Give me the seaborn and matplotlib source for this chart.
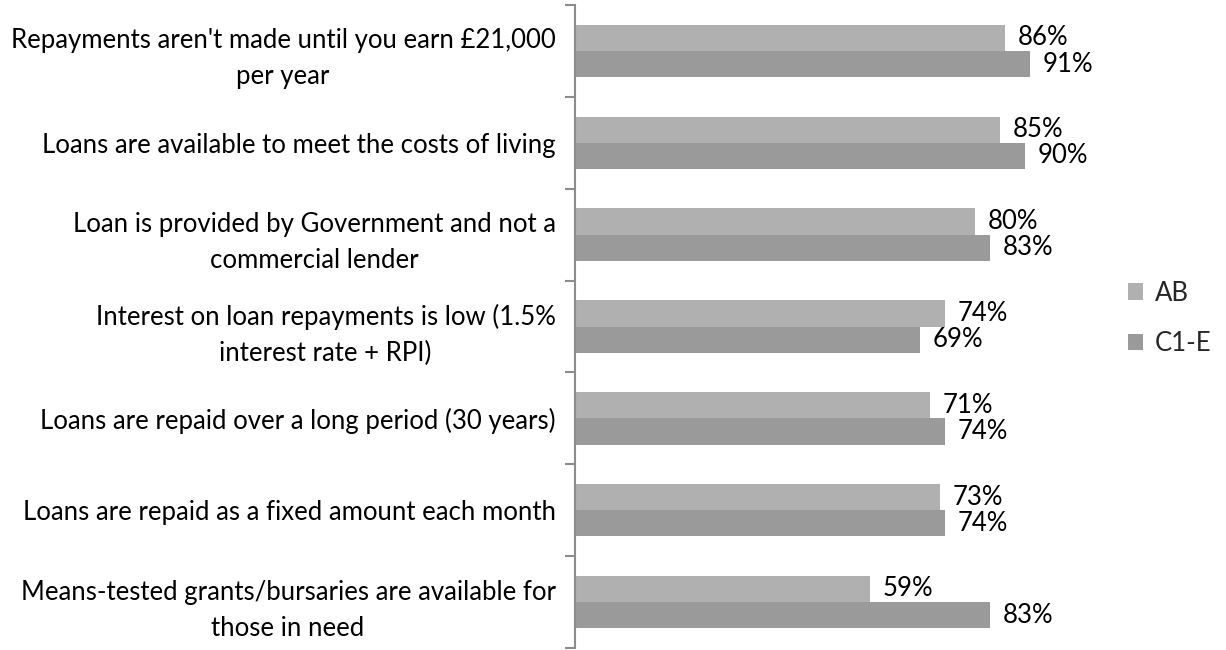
import matplotlib
matplotlib.use("Agg")
import matplotlib.pyplot as plt
import seaborn as sns
import pandas as pd
import numpy as np

categories = [
    "Repayments aren't made until you earn £21,000\nper year",
    "Loans are available to meet the costs of living",
    "Loan is provided by Government and not a\ncommercial lender",
    "Interest on loan repayments is low (1.5%\ninterest rate + RPI)",
    "Loans are repaid over a long period (30 years)",
    "Loans are repaid as a fixed amount each month",
    "Means-tested grants/bursaries are available for\nthose in need",
]
series_names = ["AB", "C1-E"]
ab_values = [86, 85, 80, 74, 71, 73, 59]
c1e_values = [91, 90, 83, 69, 74, 74, 83]
colors = ["#b0b0b0", "#9a9a9a"]

df = pd.DataFrame({
    "category": categories * 2,
    "group": [series_names[0]] * len(categories) + [series_names[1]] * len(categories),
    "value": ab_values + c1e_values,
})

sns.set_style("white")
plt.rcParams["font.family"] = ["Lato", "DejaVu Sans"]

fig = plt.figure(figsize=(12.26, 6.5), dpi=100)
ax = fig.add_axes([575 / 1226, 2 / 650, 500 / 1226, 643 / 650])

sns.barplot(data=df, y="category", x="value", hue="group", orient="h",
            palette=colors, width=0.57, ax=ax, legend=True, saturation=1,
            linewidth=0)

ax.set_xlim(0, 100)
ax.set_ylim(len(categories) - 0.5, -0.5)
ax.set_xlabel("")
ax.set_ylabel("")
ax.set_xticks([])
for s in ["top", "right", "bottom"]:
    ax.spines[s].set_visible(False)
ax.spines["left"].set_color("#8c8c8c")
ax.spines["left"].set_linewidth(1.5)

ax.set_yticks(range(len(categories)))
ax.set_yticklabels(categories, fontsize=18.5, multialignment="center",
                   color="#000000", linespacing=1.55)
ax.tick_params(axis="y", which="major", length=0, pad=14, left=True)
ax.set_yticks(np.arange(-0.5, len(categories) + 0.5, 1), minor=True)
ax.tick_params(axis="y", which="minor", length=7, width=1.5, color="#8c8c8c",
               direction="out", left=True)

for cont in ax.containers:
    ax.bar_label(cont, labels=[f"{int(v)}%" for v in cont.datavalues],
                 padding=9, fontsize=18.5, color="#000000")

leg = ax.legend(loc="center left", bbox_to_anchor=(1128 / 1226, 0.51),
                bbox_transform=fig.transFigure, frameon=False, fontsize=18.5,
                handlelength=0.6, handleheight=0.6, handletextpad=0.45,
                labelspacing=1.0, borderaxespad=0, borderpad=0)

fig.savefig("out.png", dpi=100)
